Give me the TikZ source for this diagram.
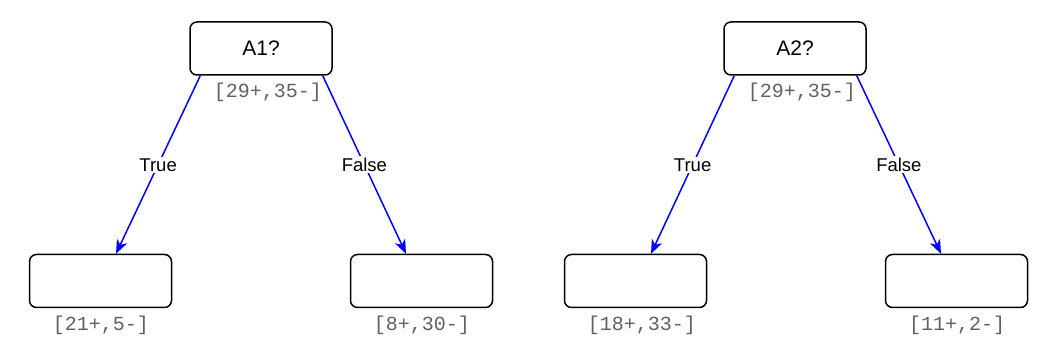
\documentclass[tikz,border=0pt]{standalone}
\usepackage{fontspec}
\setmainfont{Liberation Sans}
\newfontfamily\monofont{Liberation Mono}
\usetikzlibrary{arrows.meta,calc}
\begin{document}
\begin{tikzpicture}[x=1pt,y=-1pt,
  treebox/.style={draw=black,line width=1.5pt,rounded corners=7pt,minimum width=142pt,minimum height=53pt,inner sep=0pt,font=\fontsize{21}{24}\selectfont},
  count/.style={inner sep=0pt,text=black!62,font=\monofont\fontsize{20}{22}\selectfont},
  branch/.style={draw=blue,line width=1.5pt,-{Stealth[length=14pt,width=11pt,inset=4pt]}},
  blab/.style={fill=white,inner sep=1.5pt,font=\fontsize{18.5}{20}\selectfont}]
\useasboundingbox (0,0) rectangle (1045,352);
% left tree
\node[treebox] (a1) at (261,48.5) {A1?};
\node[treebox] (l1) at (100.5,281) {};
\node[treebox] (r1) at (421.5,281) {};
\node[count] (ca1) at (268,92) {[29+,35-]};
\node[count] (cl1) at (101,325) {[21+,5-]};
\node[count] (cr1) at (422,325) {[8+,30-]};
\draw[branch] ($(a1.south west)+(11,0)$) -- node[blab] {True} ($(l1.north)+(15.5,0)$);
\draw[branch] ($(a1.south east)+(-10,0)$) -- node[blab] {False} ($(r1.north)+(-15.5,0)$);
% right tree
\node[treebox] (a2) at (795,48.5) {A2?};
\node[treebox] (l2) at (635.5,281) {};
\node[treebox] (r2) at (956.5,281) {};
\node[count] (ca2) at (802,92) {[29+,35-]};
\node[count] (cl2) at (642,325) {[18+,33-]};
\node[count] (cr2) at (957,325) {[11+,2-]};
\draw[branch] ($(a2.south west)+(11,0)$) -- node[blab] {True} ($(l2.north)+(15.5,0)$);
\draw[branch] ($(a2.south east)+(-10,0)$) -- node[blab] {False} ($(r2.north)+(-15.5,0)$);
\end{tikzpicture}
\end{document}
